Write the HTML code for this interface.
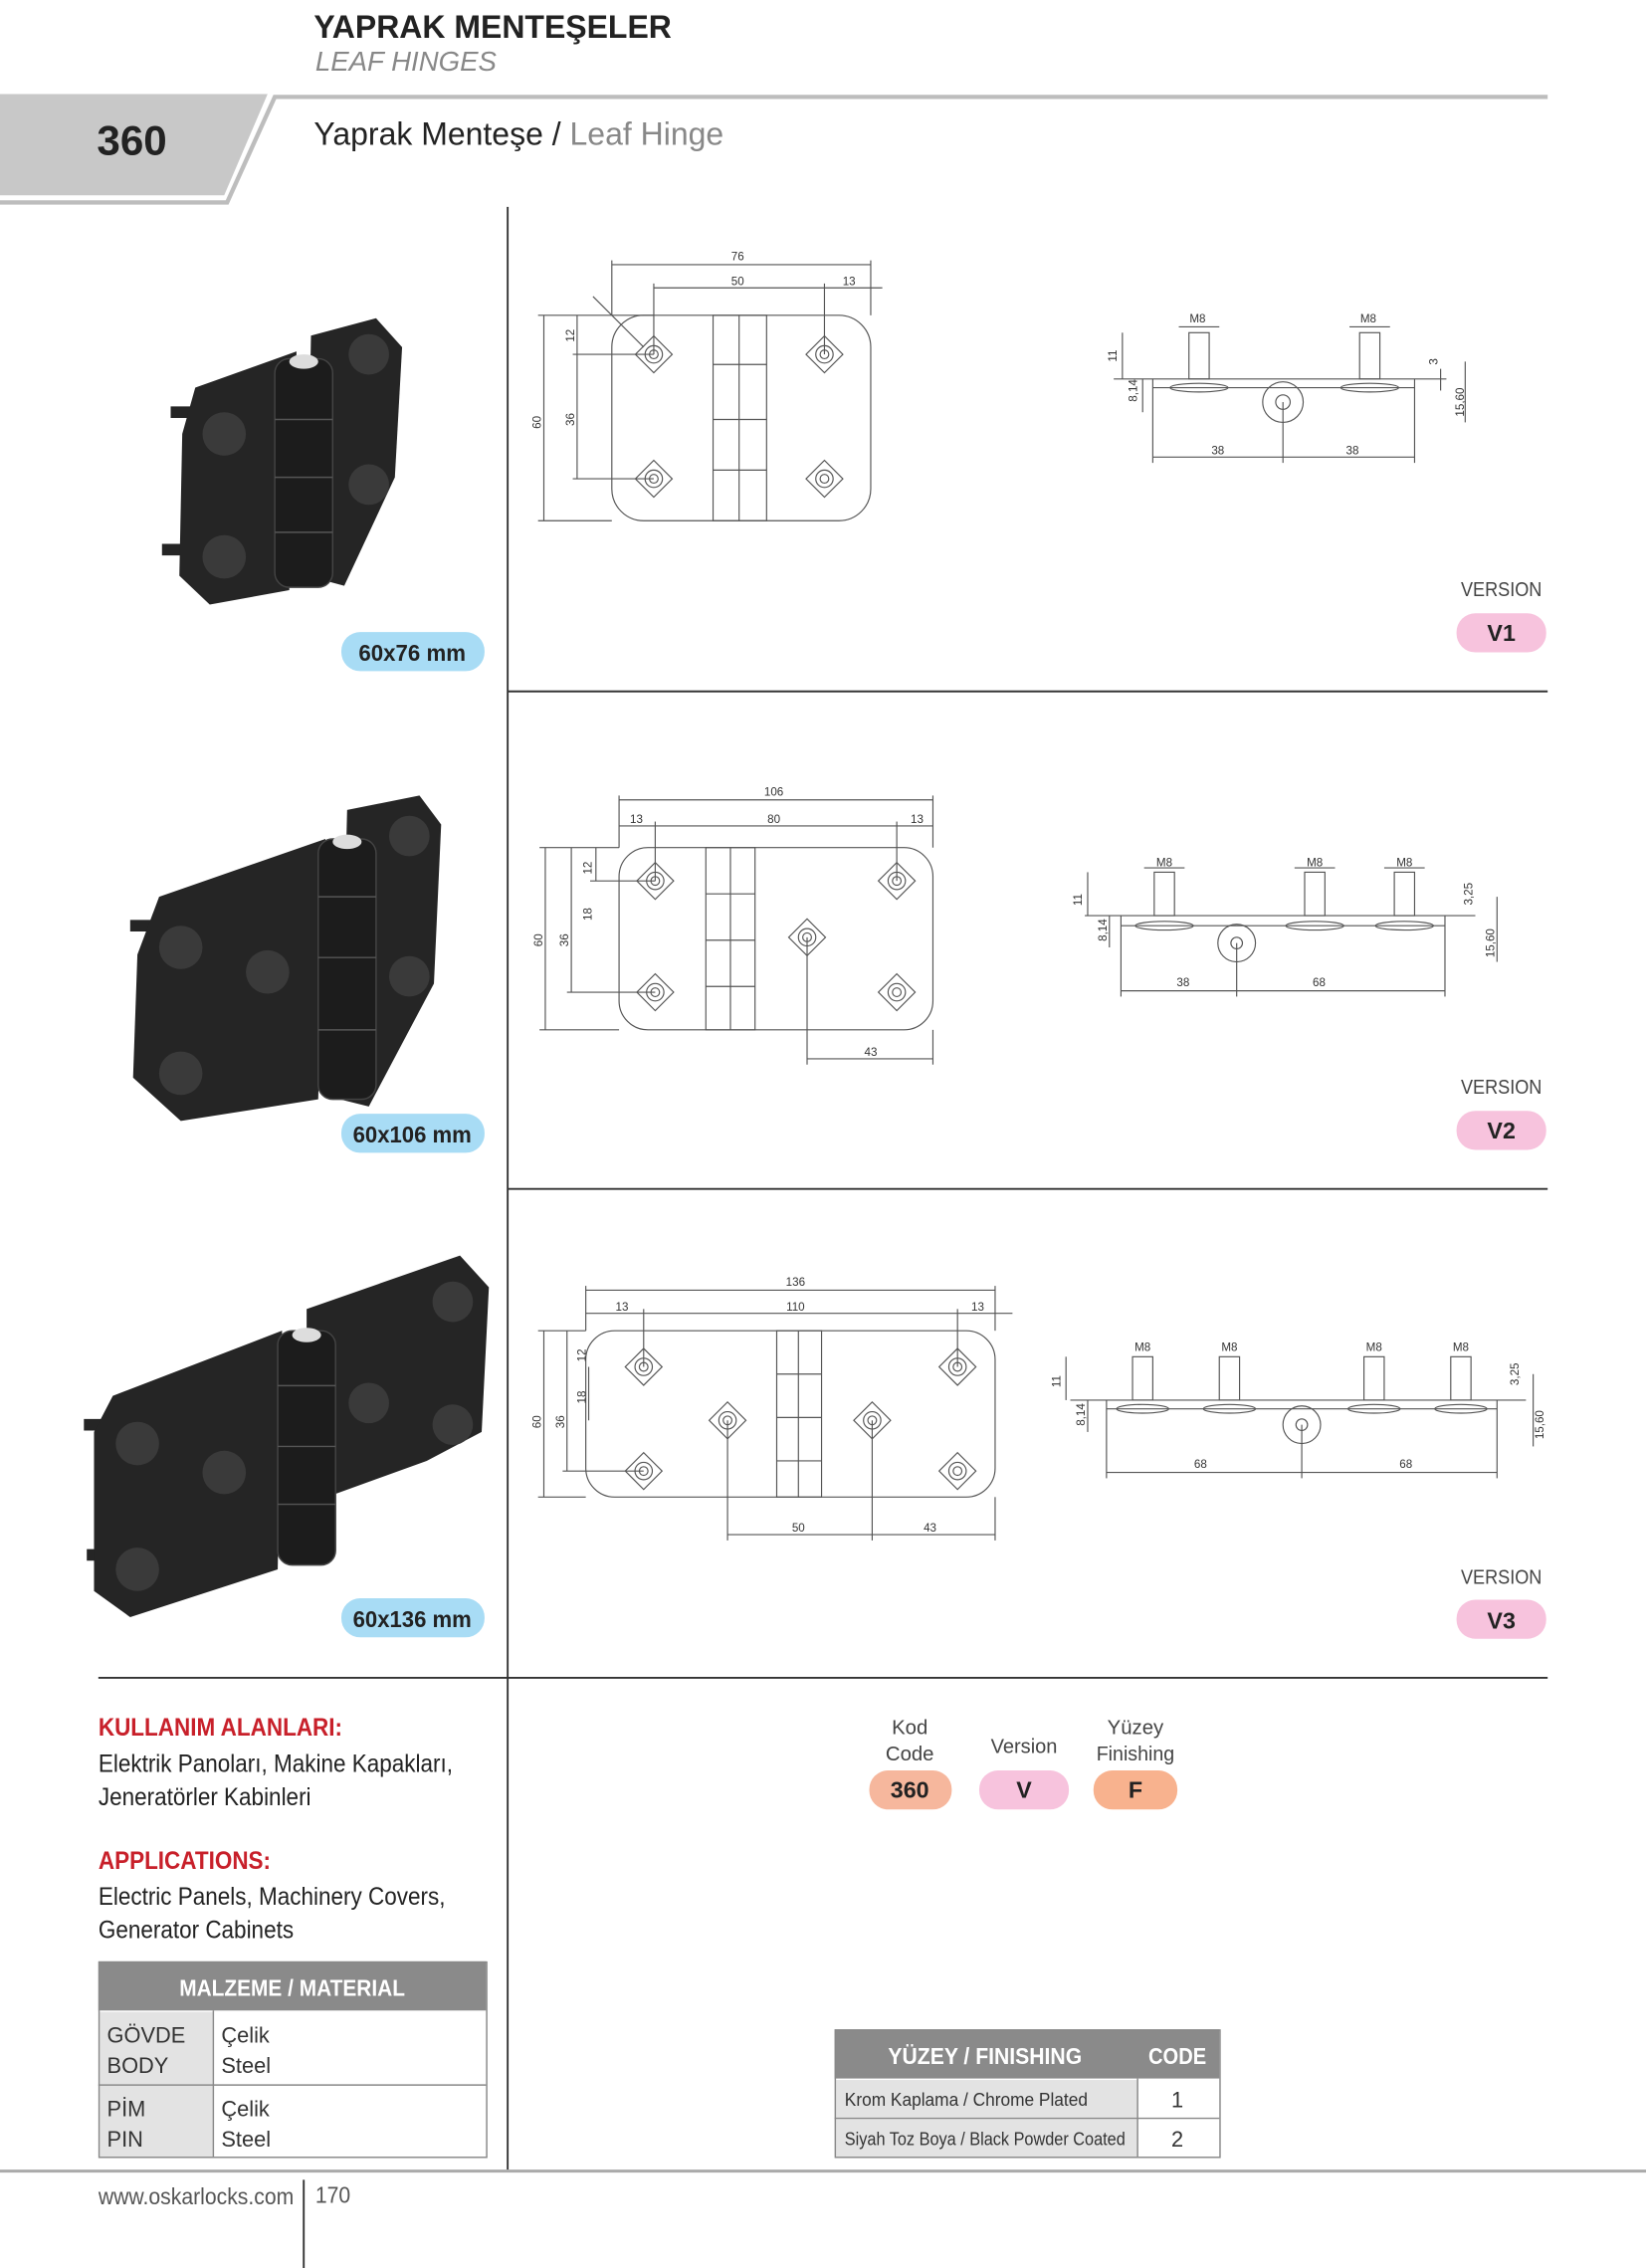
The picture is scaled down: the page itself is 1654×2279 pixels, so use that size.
<!DOCTYPE html>
<html><head><meta charset="utf-8"><style>
html,body{margin:0;padding:0;background:#fff;}
#wrap{width:1138px;height:1568px;transform:scale(1.45343,1.45344);transform-origin:0 0;position:relative;overflow:hidden;font-family:"Liberation Sans",sans-serif;}
svg{position:absolute;left:0;top:0}
.t{position:absolute;white-space:nowrap;color:#222;transform-origin:0 0;transform:scaleX(0.91)}
.n{transform:none}
</style></head><body><div id="wrap">
<svg width="1138" height="1568" viewBox="0 0 1138 1568" font-family="Liberation Sans, sans-serif">
<defs><g id="h" fill="none" stroke="#555" stroke-width="0.8"><rect x="-9" y="-9" width="18" height="18" transform="rotate(45)"/><circle r="6"/><circle r="3"/></g></defs>
<polygon points="0,65 185,65 155,135 0,135" fill="#c8c8c8"/>
<polyline points="0,140 157,140 190,67 1070,67" fill="none" stroke="#bdbdbd" stroke-width="3"/>
<g stroke="#333" stroke-width="1.3">
<line x1="351" y1="143" x2="351" y2="1500"/>
<line x1="351" y1="478" x2="1070" y2="478"/>
<line x1="351" y1="822" x2="1070" y2="822"/>
<line x1="68" y1="1160" x2="1070" y2="1160"/>
<line x1="210" y1="1507" x2="210" y2="1568"/>
</g>
<line x1="0" y1="1501" x2="1138" y2="1501" stroke="#aaa" stroke-width="2"/>

<g fill="#252525">
<line x1="118" y1="285" x2="135" y2="285" stroke="#252525" stroke-width="8"/>
<line x1="112" y1="380" x2="130" y2="380" stroke="#252525" stroke-width="8"/>
<polygon points="135,268 205,243 200,408 145,418 124,398 126,300"/>
<polygon points="215,232 260,220 278,240 273,330 238,405 212,398"/>
</g>
<g fill="#3a3a3a"><circle cx="155" cy="300" r="15"/><circle cx="155" cy="385" r="15"/><circle cx="255" cy="245" r="14"/><circle cx="255" cy="335" r="14"/></g>
<rect x="190" y="248" width="40" height="158" rx="10" fill="#1c1c1c" stroke="#444"/>
<g stroke="#555"><line x1="190" y1="290" x2="230" y2="290"/><line x1="190" y1="330" x2="230" y2="330"/><line x1="190" y1="368" x2="230" y2="368"/></g>
<ellipse cx="210" cy="250" rx="10" ry="5" fill="#ddd"/>
<g fill="#252525">
<line x1="90" y1="640" x2="110" y2="640" stroke="#252525" stroke-width="8"/>
<polygon points="110,620 225,580 220,760 125,775 92,745 95,660"/>
<polygon points="240,560 290,550 305,570 300,680 255,765 235,760"/>
</g>
<g fill="#3a3a3a"><circle cx="125" cy="655" r="15"/><circle cx="185" cy="672" r="15"/><circle cx="125" cy="742" r="15"/><circle cx="283" cy="578" r="14"/><circle cx="283" cy="675" r="14"/></g>
<rect x="220" y="580" width="40" height="180" rx="10" fill="#1c1c1c" stroke="#444"/>
<g stroke="#555"><line x1="220" y1="620" x2="260" y2="620"/><line x1="220" y1="662" x2="260" y2="662"/><line x1="220" y1="712" x2="260" y2="712"/></g>
<ellipse cx="240" cy="582" rx="10" ry="5" fill="#ddd"/>
<g fill="#252525">
<line x1="58" y1="985" x2="78" y2="985" stroke="#252525" stroke-width="8"/>
<line x1="60" y1="1075" x2="78" y2="1075" stroke="#252525" stroke-width="8"/>
<polygon points="78,965 195,920 192,1085 90,1118 65,1100 65,990"/>
<polygon points="212,905 318,868 338,890 333,990 295,1010 212,1040"/>
</g>
<g fill="#3a3a3a"><circle cx="95" cy="998" r="15"/><circle cx="155" cy="1018" r="15"/><circle cx="95" cy="1085" r="15"/><circle cx="255" cy="970" r="14"/><circle cx="313" cy="900" r="14"/><circle cx="313" cy="985" r="14"/></g>
<rect x="192" y="920" width="40" height="162" rx="10" fill="#1c1c1c" stroke="#444"/>
<g stroke="#555"><line x1="192" y1="958" x2="232" y2="958"/><line x1="192" y1="1000" x2="232" y2="1000"/><line x1="192" y1="1040" x2="232" y2="1040"/></g>
<ellipse cx="212" cy="923" rx="10" ry="5" fill="#ddd"/>

<g fill="#a8dcf5"><rect x="236" y="437" width="99" height="27" rx="13"/><rect x="236" y="770" width="99" height="27" rx="13"/><rect x="236" y="1105" width="99" height="27" rx="13"/></g>
<g fill="#f7c3dd"><rect x="1007" y="424" width="62" height="27" rx="13"/><rect x="1007" y="768" width="62" height="27" rx="13"/><rect x="1007" y="1106" width="62" height="27" rx="13"/><rect x="677" y="1224" width="62" height="27" rx="13"/></g>
<rect x="601" y="1224" width="57" height="27" rx="13" fill="#f6b79d"/>
<rect x="756" y="1224" width="58" height="27" rx="13" fill="#f8b28e"/>
<g font-weight="bold" font-size="16" fill="#222" text-anchor="middle">
<text x="285" y="457" textLength="74" lengthAdjust="spacingAndGlyphs">60x76 mm</text><text x="285" y="790" textLength="82" lengthAdjust="spacingAndGlyphs">60x106 mm</text><text x="285" y="1125" textLength="82" lengthAdjust="spacingAndGlyphs">60x136 mm</text>
<text x="1038" y="443">V1</text><text x="1038" y="787">V2</text><text x="1038" y="1126">V3</text>
<text x="629" y="1243">360</text><text x="708" y="1243">V</text><text x="785" y="1243">F</text>
</g>
<g font-size="14" fill="#444" text-anchor="middle">
<text x="1038" y="412" textLength="56" lengthAdjust="spacingAndGlyphs">VERSION</text><text x="1038" y="756" textLength="56" lengthAdjust="spacingAndGlyphs">VERSION</text><text x="1038" y="1095" textLength="56" lengthAdjust="spacingAndGlyphs">VERSION</text>
<text x="629" y="1199">Kod</text><text x="629" y="1217">Code</text><text x="708" y="1212" textLength="46" lengthAdjust="spacingAndGlyphs">Version</text>
<text x="785" y="1199">Yüzey</text><text x="785" y="1217" textLength="54" lengthAdjust="spacingAndGlyphs">Finishing</text>
</g>

<g fill="none" stroke="#555" stroke-width="0.8">
<rect x="423" y="218" width="179" height="142" rx="22"/>
<rect x="493" y="218" width="37" height="142"/><line x1="511" y1="218" x2="511" y2="360"/>
<line x1="493" y1="252" x2="530" y2="252"/><line x1="493" y1="290" x2="530" y2="290"/><line x1="493" y1="325" x2="530" y2="325"/>
<line x1="423" y1="183" x2="602" y2="183"/><line x1="452" y1="199" x2="570" y2="199"/><line x1="570" y1="199" x2="610" y2="199"/>
<line x1="423" y1="180" x2="423" y2="218"/><line x1="602" y1="180" x2="602" y2="218"/><line x1="452" y1="196" x2="452" y2="245"/><line x1="570" y1="196" x2="570" y2="245"/>
<line x1="376" y1="218" x2="376" y2="360"/><line x1="399" y1="218" x2="399" y2="331"/>
<line x1="372" y1="218" x2="452" y2="218"/><line x1="372" y1="360" x2="423" y2="360"/><line x1="396" y1="245" x2="452" y2="245"/><line x1="396" y1="331" x2="452" y2="331"/>
<line x1="410" y1="205" x2="445" y2="240"/>
<line x1="770" y1="262" x2="1000" y2="262"/><line x1="797" y1="268" x2="978" y2="268"/>
<rect x="822" y="230" width="14" height="32"/><rect x="940" y="230" width="14" height="32"/>
<ellipse cx="829" cy="268" rx="20" ry="3"/><ellipse cx="947" cy="268" rx="20" ry="3"/>
<circle cx="887" cy="278" r="14"/><circle cx="887" cy="278" r="5"/>
<line x1="797" y1="316" x2="978" y2="316"/><line x1="797" y1="262" x2="797" y2="320"/><line x1="978" y1="262" x2="978" y2="320"/><line x1="887" y1="278" x2="887" y2="320"/>
<line x1="776" y1="230" x2="776" y2="262"/><line x1="790" y1="262" x2="790" y2="285"/><line x1="1013" y1="250" x2="1013" y2="292"/><line x1="996" y1="255" x2="996" y2="270"/>
<line x1="815" y1="226" x2="843" y2="226"/><line x1="933" y1="226" x2="961" y2="226"/>

<rect x="428" y="586" width="217" height="126" rx="20"/>
<rect x="488" y="586" width="34" height="126"/><line x1="505" y1="586" x2="505" y2="712"/>
<line x1="488" y1="618" x2="522" y2="618"/><line x1="488" y1="650" x2="522" y2="650"/><line x1="488" y1="682" x2="522" y2="682"/>
<line x1="428" y1="553" x2="645" y2="553"/><line x1="428" y1="571" x2="645" y2="571"/>
<line x1="428" y1="550" x2="428" y2="586"/><line x1="645" y1="550" x2="645" y2="586"/><line x1="453" y1="568" x2="453" y2="609"/><line x1="620" y1="568" x2="620" y2="609"/>
<line x1="377" y1="586" x2="377" y2="712"/><line x1="395" y1="586" x2="395" y2="686"/><line x1="412" y1="586" x2="412" y2="609"/>
<line x1="373" y1="586" x2="428" y2="586"/><line x1="373" y1="712" x2="428" y2="712"/><line x1="392" y1="686" x2="453" y2="686"/><line x1="408" y1="609" x2="453" y2="609"/>
<line x1="558" y1="732" x2="645" y2="732"/><line x1="558" y1="648" x2="558" y2="736"/><line x1="645" y1="712" x2="645" y2="736"/>
<line x1="750" y1="633" x2="1020" y2="633"/><line x1="775" y1="640" x2="999" y2="640"/>
<rect x="798" y="603" width="14" height="30"/><rect x="902" y="603" width="14" height="30"/><rect x="964" y="603" width="14" height="30"/>
<ellipse cx="805" cy="640" rx="20" ry="3"/><ellipse cx="909" cy="640" rx="20" ry="3"/><ellipse cx="971" cy="640" rx="20" ry="3"/>
<circle cx="855" cy="652" r="13"/><circle cx="855" cy="652" r="4"/>
<line x1="775" y1="685" x2="999" y2="685"/><line x1="775" y1="633" x2="775" y2="689"/><line x1="999" y1="633" x2="999" y2="689"/><line x1="855" y1="652" x2="855" y2="689"/>
<line x1="752" y1="603" x2="752" y2="633"/><line x1="767" y1="633" x2="767" y2="655"/><line x1="1035" y1="620" x2="1035" y2="665"/>
<line x1="791" y1="600" x2="819" y2="600"/><line x1="895" y1="600" x2="923" y2="600"/><line x1="957" y1="600" x2="985" y2="600"/>

<rect x="405" y="920" width="283" height="115" rx="20"/>
<rect x="537" y="920" width="31" height="115"/><line x1="552" y1="920" x2="552" y2="1035"/>
<line x1="537" y1="950" x2="568" y2="950"/><line x1="537" y1="980" x2="568" y2="980"/><line x1="537" y1="1010" x2="568" y2="1010"/>
<line x1="405" y1="892" x2="688" y2="892"/><line x1="405" y1="908" x2="700" y2="908"/>
<line x1="405" y1="889" x2="405" y2="920"/><line x1="688" y1="889" x2="688" y2="920"/><line x1="445" y1="905" x2="445" y2="945"/><line x1="662" y1="905" x2="662" y2="945"/>
<line x1="376" y1="920" x2="376" y2="1035"/><line x1="392" y1="920" x2="392" y2="1017"/><line x1="407" y1="945" x2="407" y2="982"/>
<line x1="372" y1="920" x2="405" y2="920"/><line x1="372" y1="1035" x2="405" y2="1035"/><line x1="389" y1="1017" x2="445" y2="1017"/>
<line x1="503" y1="1061" x2="688" y2="1061"/><line x1="503" y1="982" x2="503" y2="1065"/><line x1="603" y1="982" x2="603" y2="1065"/><line x1="688" y1="1035" x2="688" y2="1065"/>
<line x1="740" y1="968" x2="1055" y2="968"/><line x1="765" y1="974" x2="1035" y2="974"/>
<rect x="783" y="938" width="14" height="30"/><rect x="843" y="938" width="14" height="30"/><rect x="943" y="938" width="14" height="30"/><rect x="1003" y="938" width="14" height="30"/>
<ellipse cx="790" cy="974" rx="18" ry="3"/><ellipse cx="850" cy="974" rx="18" ry="3"/><ellipse cx="950" cy="974" rx="18" ry="3"/><ellipse cx="1010" cy="974" rx="18" ry="3"/>
<circle cx="900" cy="985" r="13"/><circle cx="900" cy="985" r="4"/>
<line x1="765" y1="1018" x2="1035" y2="1018"/><line x1="765" y1="968" x2="765" y2="1022"/><line x1="1035" y1="968" x2="1035" y2="1022"/><line x1="900" y1="985" x2="900" y2="1022"/>
<line x1="737" y1="938" x2="737" y2="968"/><line x1="752" y1="968" x2="752" y2="990"/><line x1="1060" y1="950" x2="1060" y2="1000"/>
</g>
<use href="#h" x="452" y="245"/><use href="#h" x="570" y="245"/><use href="#h" x="452" y="331"/><use href="#h" x="570" y="331"/>
<use href="#h" x="453" y="609"/><use href="#h" x="620" y="609"/><use href="#h" x="453" y="686"/><use href="#h" x="620" y="686"/><use href="#h" x="558" y="648"/>
<use href="#h" x="445" y="945"/><use href="#h" x="662" y="945"/><use href="#h" x="445" y="1017"/><use href="#h" x="662" y="1017"/><use href="#h" x="503" y="982"/><use href="#h" x="603" y="982"/>
<g font-size="8" fill="#333" text-anchor="middle">
<text x="510" y="180">76</text><text x="510" y="197">50</text><text x="587" y="197">13</text>
<text x="374" y="292" transform="rotate(-90 374 292)">60</text><text x="397" y="290" transform="rotate(-90 397 290)">36</text><text x="397" y="232" transform="rotate(-90 397 232)">12</text>
<text x="828" y="223">M8</text><text x="946" y="223">M8</text><text x="842" y="314">38</text><text x="935" y="314">38</text>
<text x="772" y="246" transform="rotate(-90 772 246)">11</text><text x="786" y="270" transform="rotate(-90 786 270)">8,14</text><text x="1012" y="278" transform="rotate(-90 1012 278)">15,60</text><text x="994" y="250" transform="rotate(-90 994 250)">3</text>
<text x="535" y="550">106</text><text x="440" y="569">13</text><text x="535" y="569">80</text><text x="634" y="569">13</text><text x="602" y="730">43</text>
<text x="375" y="650" transform="rotate(-90 375 650)">60</text><text x="393" y="650" transform="rotate(-90 393 650)">36</text><text x="409" y="632" transform="rotate(-90 409 632)">18</text><text x="409" y="600" transform="rotate(-90 409 600)">12</text>
<text x="805" y="599">M8</text><text x="909" y="599">M8</text><text x="971" y="599">M8</text><text x="818" y="682">38</text><text x="912" y="682">68</text>
<text x="748" y="622" transform="rotate(-90 748 622)">11</text><text x="765" y="643" transform="rotate(-90 765 643)">8,14</text><text x="1033" y="652" transform="rotate(-90 1033 652)">15,60</text><text x="1018" y="618" transform="rotate(-90 1018 618)">3,25</text>
<text x="550" y="889">136</text><text x="430" y="906">13</text><text x="550" y="906">110</text><text x="676" y="906">13</text><text x="552" y="1059">50</text><text x="643" y="1059">43</text>
<text x="374" y="983" transform="rotate(-90 374 983)">60</text><text x="390" y="983" transform="rotate(-90 390 983)">36</text><text x="405" y="966" transform="rotate(-90 405 966)">18</text><text x="405" y="937" transform="rotate(-90 405 937)">12</text>
<text x="790" y="934">M8</text><text x="850" y="934">M8</text><text x="950" y="934">M8</text><text x="1010" y="934">M8</text><text x="830" y="1015">68</text><text x="972" y="1015">68</text>
<text x="733" y="955" transform="rotate(-90 733 955)">11</text><text x="750" y="978" transform="rotate(-90 750 978)">8,14</text><text x="1067" y="985" transform="rotate(-90 1067 985)">15,60</text><text x="1050" y="950" transform="rotate(-90 1050 950)">3,25</text>
</g>

<rect x="68" y="1356" width="268" height="34" fill="#8a8a8a"/>
<g fill="#e3e3e3"><rect x="69" y="1391" width="78" height="50"/><rect x="69" y="1442" width="78" height="49"/></g>
<g fill="none" stroke="#888" stroke-width="1"><rect x="68.5" y="1356.5" width="268" height="135"/><line x1="68" y1="1441.5" x2="336" y2="1441.5"/><line x1="147.5" y1="1390" x2="147.5" y2="1491"/></g>
<text x="202" y="1380" font-size="16" font-weight="bold" fill="#fff" text-anchor="middle" textLength="156" lengthAdjust="spacingAndGlyphs">MALZEME / MATERIAL</text>
<g font-size="15" fill="#333"><text x="74" y="1412">GÖVDE</text><text x="74" y="1433">BODY</text><text x="74" y="1463">PİM</text><text x="74" y="1484">PIN</text>
<text x="153" y="1412">Çelik</text><text x="153" y="1433">Steel</text><text x="153" y="1463">Çelik</text><text x="153" y="1484">Steel</text></g>
<rect x="577" y="1403" width="266" height="34" fill="#8a8a8a"/>
<g fill="#e3e3e3"><rect x="578" y="1438" width="208" height="26"/><rect x="578" y="1465" width="208" height="26"/></g>
<g fill="none" stroke="#888" stroke-width="1"><rect x="577.5" y="1403.5" width="266" height="88"/><line x1="577" y1="1464.5" x2="843" y2="1464.5"/><line x1="786.5" y1="1437" x2="786.5" y2="1491"/></g>
<g font-size="16" font-weight="bold" fill="#fff" text-anchor="middle"><text x="681" y="1427" textLength="134" lengthAdjust="spacingAndGlyphs">YÜZEY / FINISHING</text><text x="814" y="1427" textLength="40" lengthAdjust="spacingAndGlyphs">CODE</text></g>
<g font-size="13" fill="#333"><text x="584" y="1456" textLength="168" lengthAdjust="spacingAndGlyphs">Krom Kaplama / Chrome Plated</text><text x="584" y="1483" textLength="194" lengthAdjust="spacingAndGlyphs">Siyah Toz Boya / Black Powder Coated</text></g>
<g font-size="15" fill="#333" text-anchor="middle"><text x="814" y="1457">1</text><text x="814" y="1484">2</text></g>
</svg>
<div class="t n" style="left:217px;top:6px;font-size:22px;font-weight:bold;color:#222">YAPRAK MENTEŞELER</div>
<div class="t n" style="left:218px;top:33px;font-size:19px;font-style:italic;color:#888">LEAF HINGES</div>
<div class="t n" style="left:67px;top:82px;font-size:29px;font-weight:bold;color:#222">360</div>
<div class="t n" style="left:217px;top:80px;font-size:22px;color:#222">Yaprak Menteşe / <span style="color:#888">Leaf Hinge</span></div>
<div class="t" style="left:68px;top:1185px;font-size:17px;font-weight:bold;color:#c8202a">KULLANIM ALANLARI:</div>
<div class="t" style="left:68px;top:1208px;font-size:17px;line-height:23px;color:#222">Elektrik Panoları, Makine Kapakları,<br>Jeneratörler Kabinleri</div>
<div class="t" style="left:68px;top:1277px;font-size:17px;font-weight:bold;color:#c8202a">APPLICATIONS:</div>
<div class="t" style="left:68px;top:1300px;font-size:17px;line-height:23px;color:#222">Electric Panels, Machinery Covers,<br>Generator Cabinets</div>
<div class="t" style="left:68px;top:1511px;font-size:16px;color:#555">www.oskarlocks.com</div>
<div class="t" style="left:218px;top:1510px;font-size:16px;color:#555">170</div>
</div></body></html>
